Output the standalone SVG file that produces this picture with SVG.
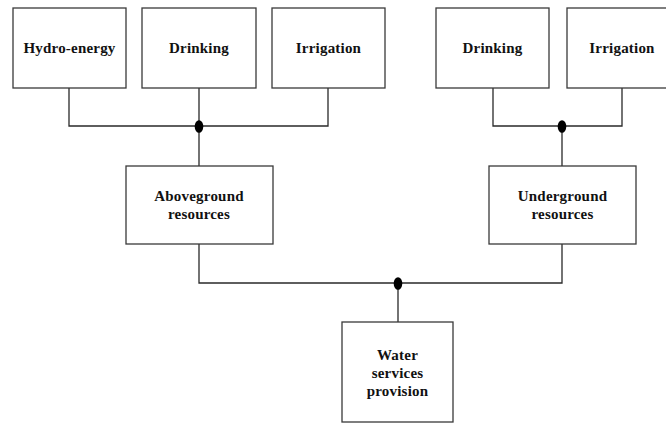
<svg xmlns="http://www.w3.org/2000/svg" width="666" height="424" viewBox="0 0 666 424">
  <style>
    .box { fill: #ffffff; stroke: #3a3a3a; stroke-width: 1.3; }
    .lbl { font-family: "Liberation Serif", "Times New Roman", serif; font-size: 15px; font-weight: bold; fill: #111111; text-anchor: middle; letter-spacing: 0.2px; }
    .wire { fill: none; stroke: #2a2a2a; stroke-width: 1.3; }
    .joint { fill: #000000; }
  </style>
  <rect width="666" height="424" fill="#ffffff"/>

  <!-- connectors -->
  <g id="connectors">
    <!-- aboveground uses -->
    <path class="wire" d="M69,88 V126 H328 V88 M199,88 V166"/>
    <ellipse class="joint" cx="199" cy="126.5" rx="4.3" ry="6.3"/>
    <!-- underground uses -->
    <path class="wire" d="M493,88 V126 H622 V88 M562,126 V166"/>
    <ellipse class="joint" cx="562" cy="126.5" rx="4.3" ry="6.3"/>
    <!-- resources to provision -->
    <path class="wire" d="M199,244 V283 H562 V244 M398,283 V322"/>
    <ellipse class="joint" cx="398" cy="283.5" rx="4.3" ry="6.3"/>
  </g>

  <g id="hydro-energy">
    <rect class="box" x="13" y="8" width="113" height="80"/>
    <text class="lbl" x="69.5" y="53">Hydro-energy</text>
  </g>
  <g id="drinking-above">
    <rect class="box" x="142" y="8" width="114" height="80"/>
    <text class="lbl" x="199" y="53">Drinking</text>
  </g>
  <g id="irrigation-above">
    <rect class="box" x="272" y="8" width="113" height="80"/>
    <text class="lbl" x="328.5" y="53">Irrigation</text>
  </g>
  <g id="drinking-under">
    <rect class="box" x="436" y="8" width="113" height="80"/>
    <text class="lbl" x="492.5" y="53">Drinking</text>
  </g>
  <g id="irrigation-under">
    <rect class="box" x="567" y="8" width="113" height="80"/>
    <text class="lbl" x="622" y="53">Irrigation</text>
  </g>

  <g id="aboveground">
    <rect class="box" x="126" y="166" width="147" height="78"/>
    <text class="lbl" x="199" y="201">Aboveground</text>
    <text class="lbl" x="199" y="219">resources</text>
  </g>
  <g id="underground">
    <rect class="box" x="489" y="166" width="147" height="78"/>
    <text class="lbl" x="562.5" y="201">Underground</text>
    <text class="lbl" x="562.5" y="219">resources</text>
  </g>

  <g id="water-services">
    <rect class="box" x="342" y="322" width="111" height="100"/>
    <text class="lbl" x="397.5" y="360">Water</text>
    <text class="lbl" x="397.5" y="378">services</text>
    <text class="lbl" x="397.5" y="396">provision</text>
  </g>
</svg>
